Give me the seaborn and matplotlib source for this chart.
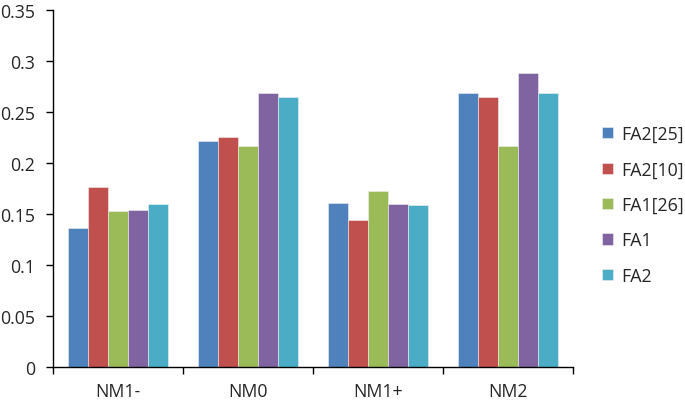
import matplotlib
matplotlib.use("Agg")
import matplotlib.pyplot as plt
import seaborn as sns
import pandas as pd
import numpy as np
from matplotlib.ticker import FixedLocator, NullFormatter

categories = ["NM1-", "NM0", "NM1+", "NM2"]
series = ["FA2[25]", "FA2[10]", "FA1[26]", "FA1", "FA2"]
fa2_25 = [0.136, 0.221, 0.161, 0.268]
fa2_10 = [0.176, 0.225, 0.144, 0.264]
fa1_26 = [0.153, 0.216, 0.172, 0.216]
fa1 = [0.154, 0.268, 0.160, 0.288]
fa2 = [0.160, 0.264, 0.159, 0.268]
yticks = [0, 0.05, 0.1, 0.15, 0.2, 0.25, 0.3, 0.35]
ytick_labels = ["0", "0.05", "0.1", "0.15", "0.2", "0.25", "0.3", "0.35"]
colors = ["#4F81BD", "#C0504D", "#9BBB59", "#8064A2", "#4BACC6"]

rows = []
for name, vals in zip(series, [fa2_25, fa2_10, fa1_26, fa1, fa2]):
    for c, v in zip(categories, vals):
        rows.append({"cat": c, "series": name, "value": v})
df = pd.DataFrame(rows)

sns.set_style("white")
plt.rcParams["font.family"] = ["Open Sans", "DejaVu Sans"]

fs = 12.8
fig = plt.figure(figsize=(6.85, 4.06), dpi=100)
ax = fig.add_axes([53 / 685, 38 / 406, 520 / 685, 357.5 / 406])
sns.barplot(data=df, x="cat", y="value", hue="series", order=categories,
            hue_order=series, palette=colors, width=0.77, saturation=1,
            edgecolor="#f0f0f0", linewidth=0.4, ax=ax, legend=True)

ax.set_xlim(-0.5, 3.5)
ax.set_ylim(0, 0.35)
ax.set_yticks(yticks)
ax.set_yticklabels(ytick_labels, fontsize=fs)
ax.set_xlabel("")
ax.set_ylabel("")
ax.xaxis.set_major_locator(FixedLocator([0, 1, 2, 3]))
ax.set_xticklabels(categories, fontsize=fs)
ax.xaxis.set_minor_locator(FixedLocator([-0.5, 0.5, 1.5, 2.5, 3.5]))
ax.tick_params(axis="x", which="major", length=0, pad=11)
ax.tick_params(axis="x", which="minor", length=5, width=1, direction="out", color="black", bottom=True)
ax.tick_params(axis="y", length=5, width=1, direction="out", color="black", left=True, pad=8)
for s in ["top", "right"]:
    ax.spines[s].set_visible(False)
for s in ["left", "bottom"]:
    ax.spines[s].set_color("black")
    ax.spines[s].set_linewidth(1)

handles, labels = ax.get_legend_handles_labels()
ax.get_legend().remove()
fig.legend(handles, labels, loc="upper left", bbox_to_anchor=(595 / 685, 1 - 119 / 406),
           frameon=False, fontsize=fs, handlelength=0.6, handleheight=0.6,
           handletextpad=0.45, labelspacing=0.98, borderaxespad=0)

fig.savefig("out.png", dpi=100)
